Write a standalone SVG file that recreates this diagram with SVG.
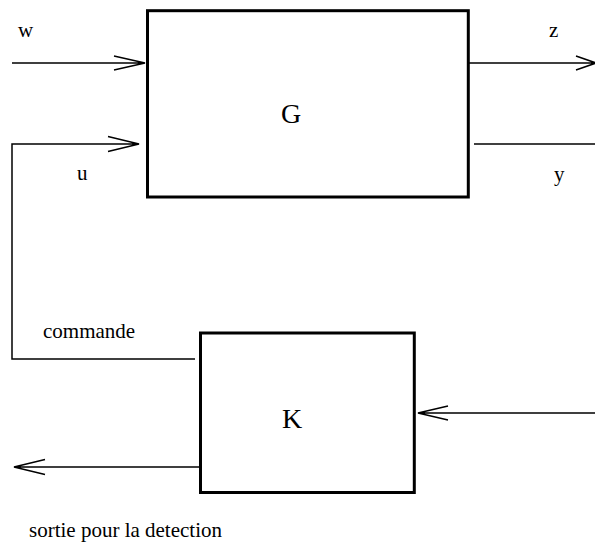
<svg xmlns="http://www.w3.org/2000/svg" width="595" height="542" viewBox="0 0 595 542">
<style>
.box{fill:none;stroke:#000;stroke-width:3}
.ln{fill:none;stroke:#000;stroke-width:1.5}
.t{font-family:"Liberation Serif","Times New Roman",serif;font-size:21px;fill:#000}
.big{font-size:28px}
</style>
<rect width="595" height="542" fill="#fff"/>
<g id="G">
<rect class="box" x="147.5" y="10.7" width="320.8" height="186.3"/>
<text class="t big" x="281" y="123">G</text>
</g>
<g id="K">
<rect class="box" x="200.5" y="333" width="213.8" height="159.5"/>
<text class="t big" x="282" y="428">K</text>
</g>
<g id="connectors">
<path class="ln" d="M12,63 H145 M114,56 L145,63 L114,70"/>
<path class="ln" d="M195,359 H12 V144 H139 M108,136.5 L139,144 L108,151.5"/>
<path class="ln" d="M468,63 H595 M576,56 L596,63 L576,70"/>
<path class="ln" d="M474,144 H595"/>
<path class="ln" d="M595,413 H418 M448,406 L418,413 L448,420"/>
<path class="ln" d="M200,467 H14 M45,459.5 L14,467 L45,474.5"/>
</g>
<g id="labels">
<text class="t" x="18" y="37">w</text>
<text class="t" x="549" y="37">z</text>
<text class="t" x="77" y="180">u</text>
<text class="t" x="554" y="181">y</text>
<text class="t" x="43" y="338">commande</text>
<text class="t" x="29" y="537">sortie pour la detection</text>
</g>
</svg>
